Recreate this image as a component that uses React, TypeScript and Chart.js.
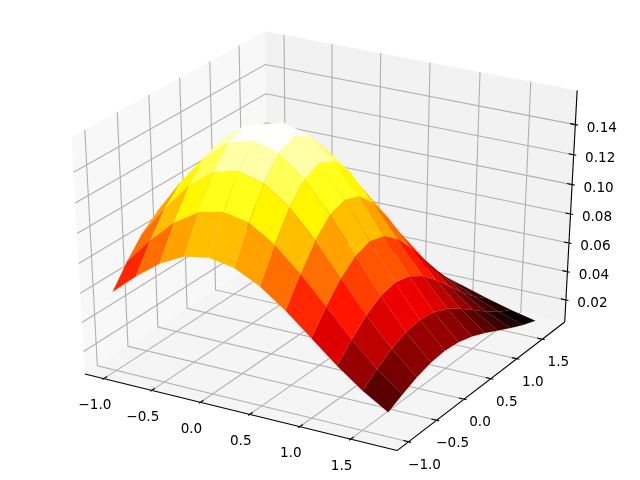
import React, { useEffect, useRef } from "react";
import { Chart, registerables } from "chart.js";

Chart.register(...registerables);

const xValues = [-1, -0.75, -0.5, -0.25, 0, 0.25, 0.5, 0.75, 1, 1.25, 1.5, 1.75];
const yValues = [-1, -0.75, -0.5, -0.25, 0, 0.25, 0.5, 0.75, 1, 1.25, 1.5, 1.75];
const zRows = [
  [0.0586, 0.0729, 0.0852, 0.0936, 0.0966, 0.0936, 0.0852, 0.0729, 0.0586, 0.0442, 0.0314, 0.0209],
  [0.0729, 0.0907, 0.1061, 0.1165, 0.1202, 0.1165, 0.1061, 0.0907, 0.0729, 0.055, 0.039, 0.026],
  [0.0852, 0.1061, 0.124, 0.1362, 0.1405, 0.1362, 0.124, 0.1061, 0.0852, 0.0643, 0.0456, 0.0304],
  [0.0936, 0.1165, 0.1362, 0.1495, 0.1543, 0.1495, 0.1362, 0.1165, 0.0936, 0.0706, 0.0501, 0.0334],
  [0.0966, 0.1202, 0.1405, 0.1543, 0.1592, 0.1543, 0.1405, 0.1202, 0.0966, 0.0729, 0.0517, 0.0344],
  [0.0936, 0.1165, 0.1362, 0.1495, 0.1543, 0.1495, 0.1362, 0.1165, 0.0936, 0.0706, 0.0501, 0.0334],
  [0.0852, 0.1061, 0.124, 0.1362, 0.1405, 0.1362, 0.124, 0.1061, 0.0852, 0.0643, 0.0456, 0.0304],
  [0.0729, 0.0907, 0.1061, 0.1165, 0.1202, 0.1165, 0.1061, 0.0907, 0.0729, 0.055, 0.039, 0.026],
  [0.0586, 0.0729, 0.0852, 0.0936, 0.0966, 0.0936, 0.0852, 0.0729, 0.0586, 0.0442, 0.0314, 0.0209],
  [0.0442, 0.055, 0.0643, 0.0706, 0.0729, 0.0706, 0.0643, 0.055, 0.0442, 0.0334, 0.0237, 0.0158],
  [0.0314, 0.039, 0.0456, 0.0501, 0.0517, 0.0501, 0.0456, 0.039, 0.0314, 0.0237, 0.0168, 0.0112],
  [0.0209, 0.026, 0.0304, 0.0334, 0.0344, 0.0334, 0.0304, 0.026, 0.0209, 0.0158, 0.0112, 0.0074],
];
const xTicks = [-1, -0.5, 0, 0.5, 1, 1.5];
const yTicks = [-1, -0.5, 0, 0.5, 1, 1.5];
const zTicks = [0.02, 0.04, 0.06, 0.08, 0.1, 0.12, 0.14];

const X_LIM = [-1.1375, 1.8875];
const Y_LIM = [-1.1375, 1.8875];
const Z_LIM = [0.0074, 0.1592];
const EDGE = 1 / 48;
const W = 640;
const H = 480;

type P = { x: number; y: number; depth: number };

const u = [Math.sqrt(3) / 2, 0.5, 0];
const v = [-0.25, Math.sqrt(3) / 4, Math.sqrt(3) / 2];
const w = [Math.sqrt(3) / 4, -0.75, 0.5];
const DIST = 10;

function projectUnit(a: number, b: number, c: number): P {
  const p = [a - 0.5, b - 0.5, c - 0.5];
  const dot = (q: number[]) => q[0] * p[0] + q[1] * p[1] + q[2] * p[2];
  const d = DIST - dot(w);
  const tx = dot(u) / d;
  const ty = dot(v) / d;
  return {
    x: (W * (tx + 0.095)) / 0.185,
    y: H * (1 - (ty + 0.095) / 0.185),
    depth: d,
  };
}
const ux = (x: number) => (x - X_LIM[0]) / (X_LIM[1] - X_LIM[0]);
const uy = (y: number) => (y - Y_LIM[0]) / (Y_LIM[1] - Y_LIM[0]);
const uz = (z: number) => (z - Z_LIM[0]) / (Z_LIM[1] - Z_LIM[0]);
const project = (x: number, y: number, z: number) => projectUnit(ux(x), uy(y), uz(z));

function lerpStops(t: number, stops: number[][]) {
  for (let i = 1; i < stops.length; i++) {
    if (t <= stops[i][0]) {
      const [a, va] = stops[i - 1];
      const [b, vb] = stops[i];
      return va + ((t - a) / (b - a)) * (vb - va);
    }
  }
  return stops[stops.length - 1][1];
}
const TONE = [[0, 0], [0.44, 0.43], [0.666, 0.65], [0.75, 0.72], [0.818, 0.77], [0.875, 0.83], [0.935, 0.91], [1, 1]];
function hot(t: number) {
  const q = Math.min(255, Math.floor(lerpStops(t, TONE) * 256)) / 255;
  const r = lerpStops(q, [[0, 0.0416], [0.365079, 1], [1, 1]]);
  const g = lerpStops(q, [[0, 0], [0.365079, 0], [0.746032, 1], [1, 1]]);
  const b = lerpStops(q, [[0, 0], [0.746032, 0], [1, 1]]);
  return `rgb(${Math.round(r * 255)},${Math.round(g * 255)},${Math.round(b * 255)})`;
}

const LO = -EDGE;
const HI = 1 + EDGE;

function polygon(points: P[], color: string, edge = "rgba(0,0,0,0)", edgeWidth = 1) {
  return {
    data: points.map((p) => ({ x: p.x, y: p.y })),
    showLine: true,
    fill: "shape",
    backgroundColor: color,
    borderColor: edge,
    borderWidth: edgeWidth,
    pointRadius: 0,
    tension: 0,
    clip: false,
  };
}
function polyline(points: P[], color: string, width: number) {
  return {
    data: points.map((p) => ({ x: p.x, y: p.y })),
    showLine: true,
    fill: false,
    borderColor: color,
    borderWidth: width,
    pointRadius: 0,
    tension: 0,
    clip: false,
  };
}

function buildDatasets() {
  const out: any[] = [];
  // panes
  out.push(polygon([projectUnit(LO, LO, LO), projectUnit(LO, HI, LO), projectUnit(LO, HI, HI), projectUnit(LO, LO, HI)], "rgba(242,242,242,0.5)"));
  out.push(polygon([projectUnit(LO, HI, LO), projectUnit(HI, HI, LO), projectUnit(HI, HI, HI), projectUnit(LO, HI, HI)], "rgba(230,230,230,0.5)"));
  out.push(polygon([projectUnit(LO, LO, LO), projectUnit(HI, LO, LO), projectUnit(HI, HI, LO), projectUnit(LO, HI, LO)], "rgba(236,236,236,0.5)"));
  const grid = "rgb(176,176,176)";
  const gw = 1.1;
  const tw = 1.1;
  // axis lines
  out.push(polyline([projectUnit(LO, LO, LO), projectUnit(HI, LO, LO)], "#000", tw));
  out.push(polyline([projectUnit(HI, LO, LO), projectUnit(HI, HI, LO)], "#000", tw));
  out.push(polyline([projectUnit(HI, HI, LO), projectUnit(HI, HI, HI)], "#000", tw));
  const OUT = 0.1 / 12;
  const IN = 0.2 / 12;
  xTicks.forEach((t) => {
    const a = ux(t);
    out.push(polyline([projectUnit(a, LO, LO), projectUnit(a, HI, LO), projectUnit(a, HI, HI)], grid, gw));
    out.push(polyline([projectUnit(a, LO - OUT, LO), projectUnit(a, LO + IN, LO)], "#000", tw));
  });
  yTicks.forEach((t) => {
    const b = uy(t);
    out.push(polyline([projectUnit(HI, b, LO), projectUnit(LO, b, LO), projectUnit(LO, b, HI)], grid, gw));
    out.push(polyline([projectUnit(HI + OUT, b, LO), projectUnit(HI - IN, b, LO)], "#000", tw));
  });
  zTicks.forEach((t) => {
    const c = uz(t);
    out.push(polyline([projectUnit(LO, LO, c), projectUnit(LO, HI, c), projectUnit(HI, HI, c)], grid, gw));
    out.push(polyline([projectUnit(HI + OUT, HI, c), projectUnit(HI - IN, HI, c)], "#000", tw));
  });
  // surface
  const cells: { pts: P[]; avg: number; depth: number }[] = [];
  for (let i = 0; i < xValues.length - 1; i++) {
    for (let j = 0; j < yValues.length - 1; j++) {
      const corners: [number, number][] = [[i, j], [i + 1, j], [i + 1, j + 1], [i, j + 1]];
      const pts = corners.map(([a, b]) => project(xValues[a], yValues[b], zRows[a][b]));
      const avg = corners.reduce((s, [a, b]) => s + zRows[a][b], 0) / 4;
      const depth = pts.reduce((s, p) => s + p.depth, 0) / 4;
      cells.push({ pts, avg, depth });
    }
  }
  const lo = Math.min(...cells.map((c) => c.avg));
  const hi = Math.max(...cells.map((c) => c.avg));
  cells.sort((a, b) => b.depth - a.depth);
  cells.forEach((c) => {
    const col = hot((c.avg - lo) / (hi - lo));
    out.push(polygon(c.pts, col, col, 0.12));
  });
  return out.map((d, i) => ({ ...d, order: out.length - i }));
}

const fmt = (t: number, digits: number) => t.toFixed(digits).replace("-", "\u2212");

const tickLabels = {
  id: "tickLabels",
  afterDatasetsDraw(chart: any) {
    const { ctx, scales } = chart;
    const put = (text: string, p: P, dx: number, dy: number) => {
      ctx.fillText(text, scales.x.getPixelForValue(p.x) + dx, scales.y.getPixelForValue(p.y) + dy);
    };
    ctx.save();
    ctx.fillStyle = "#000";
    ctx.font = '13.6px "DejaVu Sans"';
    ctx.textAlign = "center";
    ctx.textBaseline = "middle";
    xTicks.forEach((t) => put(fmt(t, 1), projectUnit(ux(t), LO, LO), -9, 27));
    yTicks.forEach((t) => put(fmt(t, 1), projectUnit(HI, uy(t), LO), 16, 23.5));
    zTicks.forEach((t) => put(fmt(t, 2), projectUnit(HI, HI, uz(t)), 26.5, 3.5));
    ctx.restore();
  },
};

export default function App() {
  const ref = useRef<HTMLCanvasElement>(null);
  useEffect(() => {
    document.body.style.margin = "0";
    const chart = new Chart(ref.current as HTMLCanvasElement, {
      type: "scatter",
      data: { datasets: buildDatasets() as any },
      options: {
        animation: false,
        responsive: false,
        layout: { padding: 0 },
        plugins: { legend: { display: false }, tooltip: { enabled: false } },
        scales: {
          x: { type: "linear", min: 0, max: W, display: false },
          y: { type: "linear", min: 0, max: H, reverse: true, display: false },
        },
      },
      plugins: [tickLabels],
    } as any);
    return () => chart.destroy();
  }, []);
  return (
    <div style={{ width: W, height: H }}>
      <canvas ref={ref} width={W} height={H} style={{ display: "block" }} />
    </div>
  );
}
